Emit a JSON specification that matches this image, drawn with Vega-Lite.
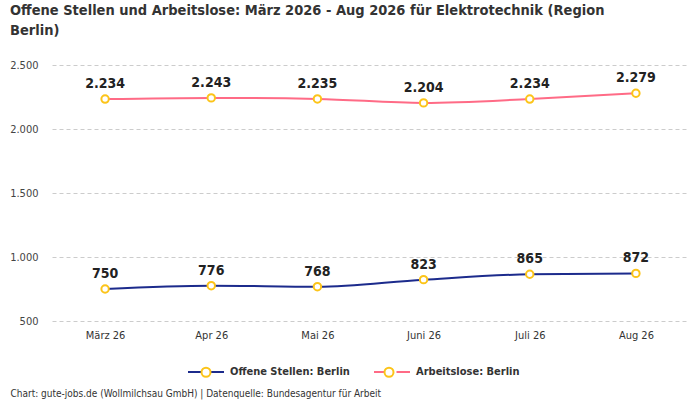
{
  "$schema": "https://vega.github.io/schema/vega-lite/v6.json",
  "width": 637,
  "height": 256,
  "autosize": {"type": "none"},
  "padding": {"left": 52, "top": 65, "right": 11, "bottom": 79},
  "background": "white",
  "config": {
    "locale": {"number": {"decimal": ",", "thousands": ".", "grouping": [3], "currency": ["", " €"]}},
    "font": "DejaVu Sans Condensed",
    "view": {"stroke": null}
  },
  "title": {
    "text": ["Offene Stellen und Arbeitslose: März 2026 - Aug 2026 für Elektrotechnik (Region", "Berlin)"],
    "anchor": "start",
    "frame": "group",
    "dx": -42,
    "fontSize": 14.5,
    "fontWeight": "bold",
    "color": "#333333",
    "lineHeight": 20,
    "offset": 21
  },
  "data": {
    "values": [
      {"monat": "März 26", "reihe": "Offene Stellen: Berlin", "serie": "Offene Stellen: Berlin", "wert": 750},
      {"monat": "Apr 26", "reihe": "Offene Stellen: Berlin", "serie": "Offene Stellen: Berlin", "wert": 776},
      {"monat": "Mai 26", "reihe": "Offene Stellen: Berlin", "serie": "Offene Stellen: Berlin", "wert": 768},
      {"monat": "Juni 26", "reihe": "Offene Stellen: Berlin", "serie": "Offene Stellen: Berlin", "wert": 823},
      {"monat": "Juli 26", "reihe": "Offene Stellen: Berlin", "serie": "Offene Stellen: Berlin", "wert": 865},
      {"monat": "Aug 26", "reihe": "Offene Stellen: Berlin", "serie": "Offene Stellen: Berlin", "wert": 872},
      {"monat": "März 26", "reihe": "Arbeitslose: Berlin", "serie": "Arbeitslose: Berlin", "wert": 2234},
      {"monat": "Apr 26", "reihe": "Arbeitslose: Berlin", "serie": "Arbeitslose: Berlin", "wert": 2243},
      {"monat": "Mai 26", "reihe": "Arbeitslose: Berlin", "serie": "Arbeitslose: Berlin", "wert": 2235},
      {"monat": "Juni 26", "reihe": "Arbeitslose: Berlin", "serie": "Arbeitslose: Berlin", "wert": 2204},
      {"monat": "Juli 26", "reihe": "Arbeitslose: Berlin", "serie": "Arbeitslose: Berlin", "wert": 2234},
      {"monat": "Aug 26", "reihe": "Arbeitslose: Berlin", "serie": "Arbeitslose: Berlin", "wert": 2279}
    ]
  },
  "encoding": {
    "x": {
      "field": "monat",
      "type": "ordinal",
      "sort": ["März 26", "Apr 26", "Mai 26", "Juni 26", "Juli 26", "Aug 26"],
      "scale": {"type": "point", "padding": 0.5},
      "axis": {
        "title": "Chart: gute-jobs.de (Wollmilchsau GmbH) | Datenquelle: Bundesagentur für Arbeit",
        "titleAnchor": "start",
        "titleAlign": "left",
        "titleBaseline": "middle",
        "titleX": -42,
        "titleY": 72,
        "titleFontSize": 10,
        "titleFontWeight": "normal",
        "titleColor": "#333333",
        "labelAngle": 0,
        "labelFontSize": 11,
        "labelColor": "#333333",
        "labelPadding": 8,
        "domain": false,
        "ticks": false,
        "grid": false
      }
    },
    "y": {
      "field": "wert",
      "type": "quantitative",
      "scale": {"domain": [500, 2500]},
      "axis": {
        "title": null,
        "values": [500, 1000, 1500, 2000, 2500],
        "format": ",d",
        "labelFontSize": 11,
        "labelColor": "#444444",
        "labelPadding": 14,
        "domain": false,
        "ticks": false,
        "gridColor": "#cccccc",
        "gridDash": [4, 3]
      }
    }
  },
  "layer": [
    {
      "mark": {"type": "line", "interpolate": "monotone", "strokeWidth": 2},
      "encoding": {
        "color": {
          "field": "reihe",
          "type": "nominal",
          "sort": ["Offene Stellen: Berlin", "Arbeitslose: Berlin"],
          "scale": {"domain": ["Offene Stellen: Berlin", "Arbeitslose: Berlin"], "range": ["#1c2b8c", "#ff6b86"]},
          "legend": {
            "title": null,
            "orient": "none",
            "direction": "horizontal",
            "legendX": 135,
            "legendY": 288,
            "symbolType": "M-1,0L-0.25,0M0.25,0L1,0",
            "symbolSize": 1296,
            "symbolStrokeWidth": 2,
            "labelFontSize": 11,
            "labelFontWeight": "bold",
            "labelColor": "#333333",
            "columnPadding": 20,
            "labelOffset": 5,
            "zindex": 0
          }
        }
      }
    },
    {
      "mark": {"type": "point", "filled": false, "fill": "white", "fillOpacity": 1, "size": 55, "strokeWidth": 2, "opacity": 1},
      "encoding": {
        "stroke": {
          "field": "serie",
          "type": "nominal",
          "sort": ["Offene Stellen: Berlin", "Arbeitslose: Berlin"],
          "scale": {"range": ["#fcc419", "#fcc419"]},
          "legend": {
            "title": null,
            "orient": "none",
            "direction": "horizontal",
            "legendX": 135,
            "legendY": 288,
            "symbolType": "M-0.25,0A0.25,0.25,0,1,1,0.25,0A0.25,0.25,0,1,1,-0.25,0Z",
            "symbolSize": 1296,
            "symbolFillColor": "white",
            "symbolStrokeWidth": 2,
            "labelFontSize": 11,
            "labelFontWeight": "bold",
            "labelOpacity": 0,
            "columnPadding": 20,
            "labelOffset": 5,
            "zindex": 1
          }
        }
      }
    },
    {
      "mark": {"type": "text", "dy": -15, "fontSize": 14, "fontWeight": "bold", "color": "#222222"},
      "encoding": {
        "text": {"field": "wert", "type": "quantitative", "format": ",d"}
      }
    }
  ]
}
